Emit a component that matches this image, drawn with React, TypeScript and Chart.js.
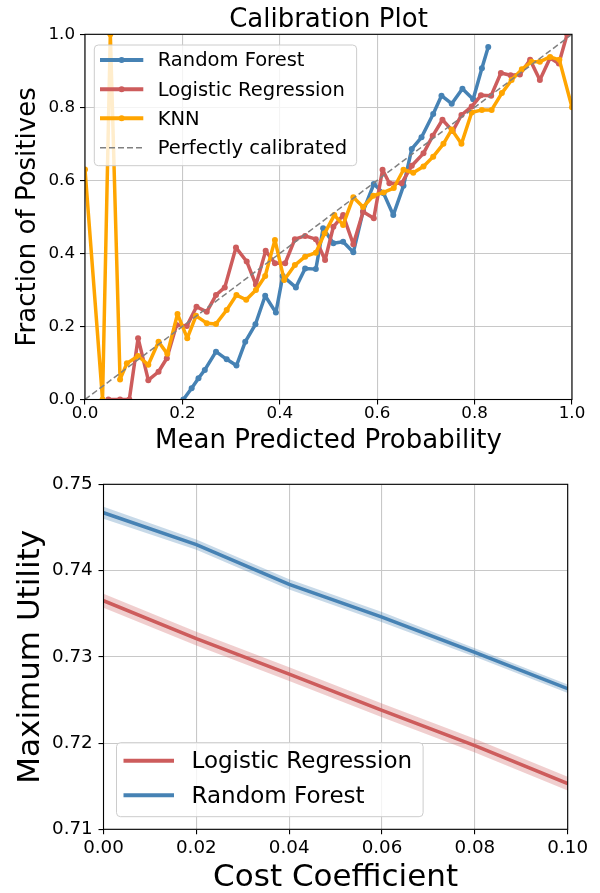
import React, { useEffect, useRef } from "react";
import { Chart, registerables } from "chart.js";
Chart.register(...registerables);

const FONT = "'DejaVu Sans', sans-serif";

// ---------- Calibration plot data ----------
const rfX = [0.202, 0.219, 0.233, 0.246, 0.269, 0.291, 0.311, 0.329, 0.350, 0.370, 0.392, 0.406, 0.433, 0.452, 0.474, 0.489, 0.510, 0.530, 0.551, 0.571, 0.593, 0.613, 0.633, 0.654, 0.671, 0.691, 0.715, 0.732, 0.753, 0.775, 0.797, 0.815, 0.828];
const rfY = [0.000, 0.031, 0.058, 0.081, 0.131, 0.110, 0.093, 0.158, 0.206, 0.284, 0.238, 0.338, 0.307, 0.359, 0.357, 0.469, 0.428, 0.432, 0.403, 0.515, 0.590, 0.565, 0.505, 0.585, 0.686, 0.718, 0.782, 0.832, 0.810, 0.851, 0.822, 0.907, 0.965];

const lrX = [0.048, 0.072, 0.091, 0.109, 0.130, 0.151, 0.168, 0.188, 0.209, 0.229, 0.250, 0.269, 0.287, 0.310, 0.332, 0.351, 0.371, 0.390, 0.411, 0.431, 0.452, 0.474, 0.493, 0.510, 0.530, 0.551, 0.571, 0.593, 0.611, 0.625, 0.650, 0.671, 0.695, 0.714, 0.734, 0.755, 0.773, 0.794, 0.813, 0.834, 0.854, 0.874, 0.893, 0.914, 0.934, 0.955, 0.973, 0.990];
const lrY = [0.000, 0.000, 0.000, 0.168, 0.053, 0.076, 0.113, 0.204, 0.201, 0.254, 0.240, 0.286, 0.307, 0.416, 0.378, 0.314, 0.407, 0.373, 0.373, 0.439, 0.448, 0.439, 0.382, 0.473, 0.505, 0.425, 0.514, 0.496, 0.629, 0.592, 0.592, 0.640, 0.674, 0.722, 0.766, 0.735, 0.779, 0.802, 0.833, 0.832, 0.894, 0.888, 0.890, 0.930, 0.875, 0.935, 0.920, 1.000];

const knnX = [0.000, 0.036, 0.052, 0.072, 0.086, 0.109, 0.130, 0.151, 0.169, 0.190, 0.210, 0.228, 0.250, 0.269, 0.291, 0.311, 0.331, 0.351, 0.370, 0.390, 0.409, 0.431, 0.452, 0.474, 0.492, 0.512, 0.530, 0.551, 0.571, 0.592, 0.613, 0.634, 0.654, 0.674, 0.695, 0.715, 0.736, 0.753, 0.773, 0.794, 0.815, 0.835, 0.856, 0.876, 0.897, 0.917, 0.934, 0.955, 0.974, 1.000];
const knnY = [0.630, 0.000, 1.000, 0.055, 0.099, 0.119, 0.095, 0.158, 0.125, 0.234, 0.168, 0.229, 0.209, 0.207, 0.245, 0.286, 0.273, 0.300, 0.338, 0.437, 0.327, 0.368, 0.391, 0.402, 0.455, 0.505, 0.478, 0.554, 0.527, 0.558, 0.567, 0.579, 0.629, 0.621, 0.638, 0.665, 0.700, 0.739, 0.700, 0.786, 0.793, 0.793, 0.839, 0.875, 0.904, 0.925, 0.925, 0.938, 0.930, 0.800];

const diagX = [0, 1];
const diagY = [0, 1];
const calTicks = [0, 0.2, 0.4, 0.6, 0.8, 1.0];

// ---------- Utility plot data ----------
const costX = [0, 0.02, 0.04, 0.06, 0.08, 0.1];
const lrUtil = [0.7365, 0.7321, 0.7280, 0.7238, 0.7197, 0.7153];
const lrLow = [0.7357, 0.7313, 0.7272, 0.7230, 0.7189, 0.7145];
const lrHigh = [0.7373, 0.7329, 0.7288, 0.7246, 0.7205, 0.7161];
const rfUtil = [0.7467, 0.7430, 0.7384, 0.7346, 0.7305, 0.7263];
const rfLow = [0.7460, 0.7424, 0.7378, 0.7340, 0.7300, 0.7258];
const rfHigh = [0.7474, 0.7436, 0.7390, 0.7352, 0.7310, 0.7268];
const costTicks = [0, 0.02, 0.04, 0.06, 0.08, 0.1];
const utilTicks = [0.71, 0.72, 0.73, 0.74, 0.75];

const BLUE = "#4682b4";
const RED = "#cd5c5c";
const ORANGE = "#ffa500";
const GRAY = "#808080";
const GRID = "#c8c8c8";

const pts = (xs: number[], ys: number[]) => xs.map((x, i) => ({ x, y: ys[i] }));

const spines = {
  id: "spines",
  afterDatasetsDraw(chart: any) {
    const { ctx, chartArea: a } = chart;
    ctx.save();
    ctx.strokeStyle = "#000";
    ctx.lineWidth = 1.1;
    ctx.strokeRect(a.left, a.top, a.right - a.left, a.bottom - a.top);
    ctx.restore();
  },
};

// Title centred over the plot area (as matplotlib does)
function makeTitle(text: string, size: number, y: number) {
  return {
    id: "axTitle",
    afterDraw(chart: any) {
      const { ctx, chartArea: a } = chart;
      ctx.save();
      ctx.font = `${size}px ${FONT}`;
      ctx.fillStyle = "#000";
      ctx.textAlign = "center";
      ctx.textBaseline = "middle";
      ctx.fillText(text, (a.left + a.right) / 2, y);
      ctx.restore();
    },
  };
}

function makeLegend(id: string, cfg: any) {
  return {
    id,
    afterDraw(chart: any) {
      const ctx = chart.ctx;
      ctx.save();
      ctx.font = `${cfg.fontSize}px ${FONT}`;
      const maxW = Math.max(...cfg.items.map((it: any) => ctx.measureText(it.label).width));
      const left = cfg.boxLeft;
      const right = cfg.textX + maxW + cfg.padRight;
      ctx.beginPath();
      ctx.roundRect(left, cfg.boxTop, right - left, cfg.boxBottom - cfg.boxTop, 4);
      ctx.fillStyle = "rgba(255,255,255,0.8)";
      ctx.fill();
      ctx.strokeStyle = "#cccccc";
      ctx.lineWidth = 1;
      ctx.stroke();
      cfg.items.forEach((it: any, i: number) => {
        const y = cfg.rows[i];
        ctx.beginPath();
        ctx.setLineDash(it.dash || []);
        ctx.strokeStyle = it.color;
        ctx.lineWidth = it.width;
        ctx.moveTo(cfg.sx0, y);
        ctx.lineTo(cfg.sx1, y);
        ctx.stroke();
        ctx.setLineDash([]);
        if (it.marker) {
          ctx.beginPath();
          ctx.fillStyle = it.color;
          ctx.arc((cfg.sx0 + cfg.sx1) / 2, y, it.marker, 0, Math.PI * 2);
          ctx.fill();
        }
        ctx.fillStyle = "#000";
        ctx.textBaseline = "middle";
        ctx.textAlign = "left";
        ctx.fillText(it.label, cfg.textX, y + cfg.fontSize * 0.07);
      });
      ctx.restore();
    },
  };
}

const calLegend = makeLegend("calLegend", {
  fontSize: 19.5,
  boxLeft: 94.3,
  boxTop: 45,
  boxBottom: 165.7,
  padRight: 9.6,
  sx0: 100,
  sx1: 143.3,
  textX: 157.7,
  rows: [60, 89.3, 118.3, 147.7],
  items: [
    { label: "Random Forest", color: BLUE, width: 4, marker: 3 },
    { label: "Logistic Regression", color: RED, width: 4, marker: 3 },
    { label: "KNN", color: ORANGE, width: 4, marker: 3 },
    { label: "Perfectly calibrated", color: GRAY, width: 1.5, dash: [6, 3] },
  ],
});

const utilLegend = makeLegend("utilLegend", {
  fontSize: 23,
  boxLeft: 116.5,
  boxTop: 282.7,
  boxBottom: 356.7,
  padRight: 11,
  sx0: 123.5,
  sx1: 174,
  textX: 191.5,
  rows: [300.7, 335.3],
  items: [
    { label: "Logistic Regression", color: RED, width: 4 },
    { label: "Random Forest", color: BLUE, width: 4 },
  ],
});

function axisCommon(ticksArr: number[], digits: number, fontSize: number, pad: number) {
  return {
    type: "linear",
    min: ticksArr[0],
    max: ticksArr[ticksArr.length - 1],
    afterBuildTicks: (s: any) => {
      s.ticks = ticksArr.map((v) => ({ value: v }));
    },
    ticks: {
      callback: (v: any) => Number(v).toFixed(digits),
      font: { family: FONT, size: fontSize, lineHeight: 1 },
      color: "#000",
      padding: pad,
      maxRotation: 0,
      autoSkip: false,
    },
    grid: { color: GRID, lineWidth: 1.1, drawTicks: true, tickLength: 5, tickColor: "#000", tickWidth: 1.1 },
    border: { display: false },
  };
}

export default function App() {
  const c1 = useRef<HTMLCanvasElement>(null);
  const c2 = useRef<HTMLCanvasElement>(null);

  useEffect(() => {
    const line = (label: string, xs: number[], ys: number[], color: string, order: number) => ({
      label,
      data: pts(xs, ys),
      borderColor: color,
      backgroundColor: color,
      borderWidth: 3.5,
      pointRadius: 3,
      pointBorderWidth: 0,
      pointBackgroundColor: color,
      borderJoinStyle: "round",
      tension: 0,
      order,
      clip: 0,
    });

    const chart1 = new Chart(c1.current as HTMLCanvasElement, {
      type: "line",
      data: {
        datasets: [
          line("Random Forest", rfX, rfY, BLUE, 4),
          line("Logistic Regression", lrX, lrY, RED, 3),
          line("KNN", knnX, knnY, ORANGE, 2),
          {
            label: "Perfectly calibrated",
            data: pts(diagX, diagY),
            borderColor: GRAY,
            borderWidth: 1.5,
            borderDash: [6, 3],
            pointRadius: 0,
            order: 1,
            clip: 0,
          },
        ],
      } as any,
      options: {
        animation: false,
        responsive: false,
        devicePixelRatio: 1,
        layout: { padding: { left: 0, right: 28, top: 34.3, bottom: 0 } },
        plugins: {
          legend: { display: false },
          tooltip: { enabled: false },
          title: { display: false },
        },
        scales: {
          x: {
            ...axisCommon(calTicks, 1, 16.7, 1.2),
            afterFit: (s: any) => {
              s.height = 60.5;
            },
            title: {
              display: true,
              text: "Mean Predicted Probability",
              color: "#000",
              font: { family: FONT, size: 26, lineHeight: 1 },
              padding: { top: 0, bottom: 5.7 },
            },
          },
          y: {
            ...axisCommon(calTicks, 1, 16.7, 5),
            afterFit: (s: any) => {
              s.width = 85;
            },
            title: {
              display: true,
              text: "Fraction of Positives",
              color: "#000",
              font: { family: FONT, size: 26, lineHeight: 1 },
              padding: { top: 15.3, bottom: 0 },
            },
          },
        },
      } as any,
      plugins: [spines, calLegend, makeTitle("Calibration Plot", 26, 20.3)],
    });

    const thick = (label: string, ys: number[], color: string, order: number) => ({
      label,
      data: pts(costX, ys),
      borderColor: color,
      borderWidth: 3.5,
      pointRadius: 0,
      fill: false,
      order,
    });
    const band = (label: string, ys: number[], fillTo: any, color: string, order: number) => ({
      label,
      data: pts(costX, ys),
      borderWidth: 0,
      borderColor: "rgba(0,0,0,0)",
      pointRadius: 0,
      fill: fillTo,
      backgroundColor: color,
      order,
    });

    const chart2 = new Chart(c2.current as HTMLCanvasElement, {
      type: "line",
      data: {
        datasets: [
          band("lrHigh", lrHigh, "+1", "rgba(205,92,92,0.3)", 8),
          band("lrLow", lrLow, false, "rgba(0,0,0,0)", 7),
          thick("Logistic Regression", lrUtil, RED, 6),
          band("rfHigh", rfHigh, "+1", "rgba(70,130,180,0.3)", 5),
          band("rfLow", rfLow, false, "rgba(0,0,0,0)", 4),
          thick("Random Forest", rfUtil, BLUE, 3),
        ],
      } as any,
      options: {
        animation: false,
        responsive: false,
        devicePixelRatio: 1,
        layout: { padding: { left: 0, right: 32.3, top: 24.3, bottom: 0 } },
        plugins: {
          legend: { display: false },
          tooltip: { enabled: false },
          title: { display: false },
        },
        scales: {
          x: {
            ...axisCommon(costTicks, 2, 18.3, 4.45),
            afterFit: (s: any) => {
              s.height = 63.7;
            },
            title: {
              display: true,
              text: "Cost Coefficient",
              color: "#000",
              font: { family: FONT, size: 31, lineHeight: 1 },
              padding: { top: 0, bottom: 0 },
            },
          },
          y: {
            ...axisCommon(utilTicks, 2, 18.3, 5.8),
            afterFit: (s: any) => {
              s.width = 103.5;
            },
            title: {
              display: true,
              text: "Maximum Utility",
              color: "#000",
              font: { family: FONT, size: 31, lineHeight: 1 },
              padding: { top: 15.6, bottom: 0 },
            },
          },
        },
      } as any,
      plugins: [spines, utilLegend],
    });

    return () => {
      chart1.destroy();
      chart2.destroy();
    };
  }, []);

  return (
    <div style={{ position: "absolute", left: 0, top: 0, width: 600, height: 893, background: "#fff" }}>
      <canvas ref={c1} width={600} height={460} style={{ position: "absolute", left: 0, top: 0, width: 600, height: 460 }} />
      <canvas ref={c2} width={600} height={433} style={{ position: "absolute", left: 0, top: 460, width: 600, height: 433 }} />
    </div>
  );
}
